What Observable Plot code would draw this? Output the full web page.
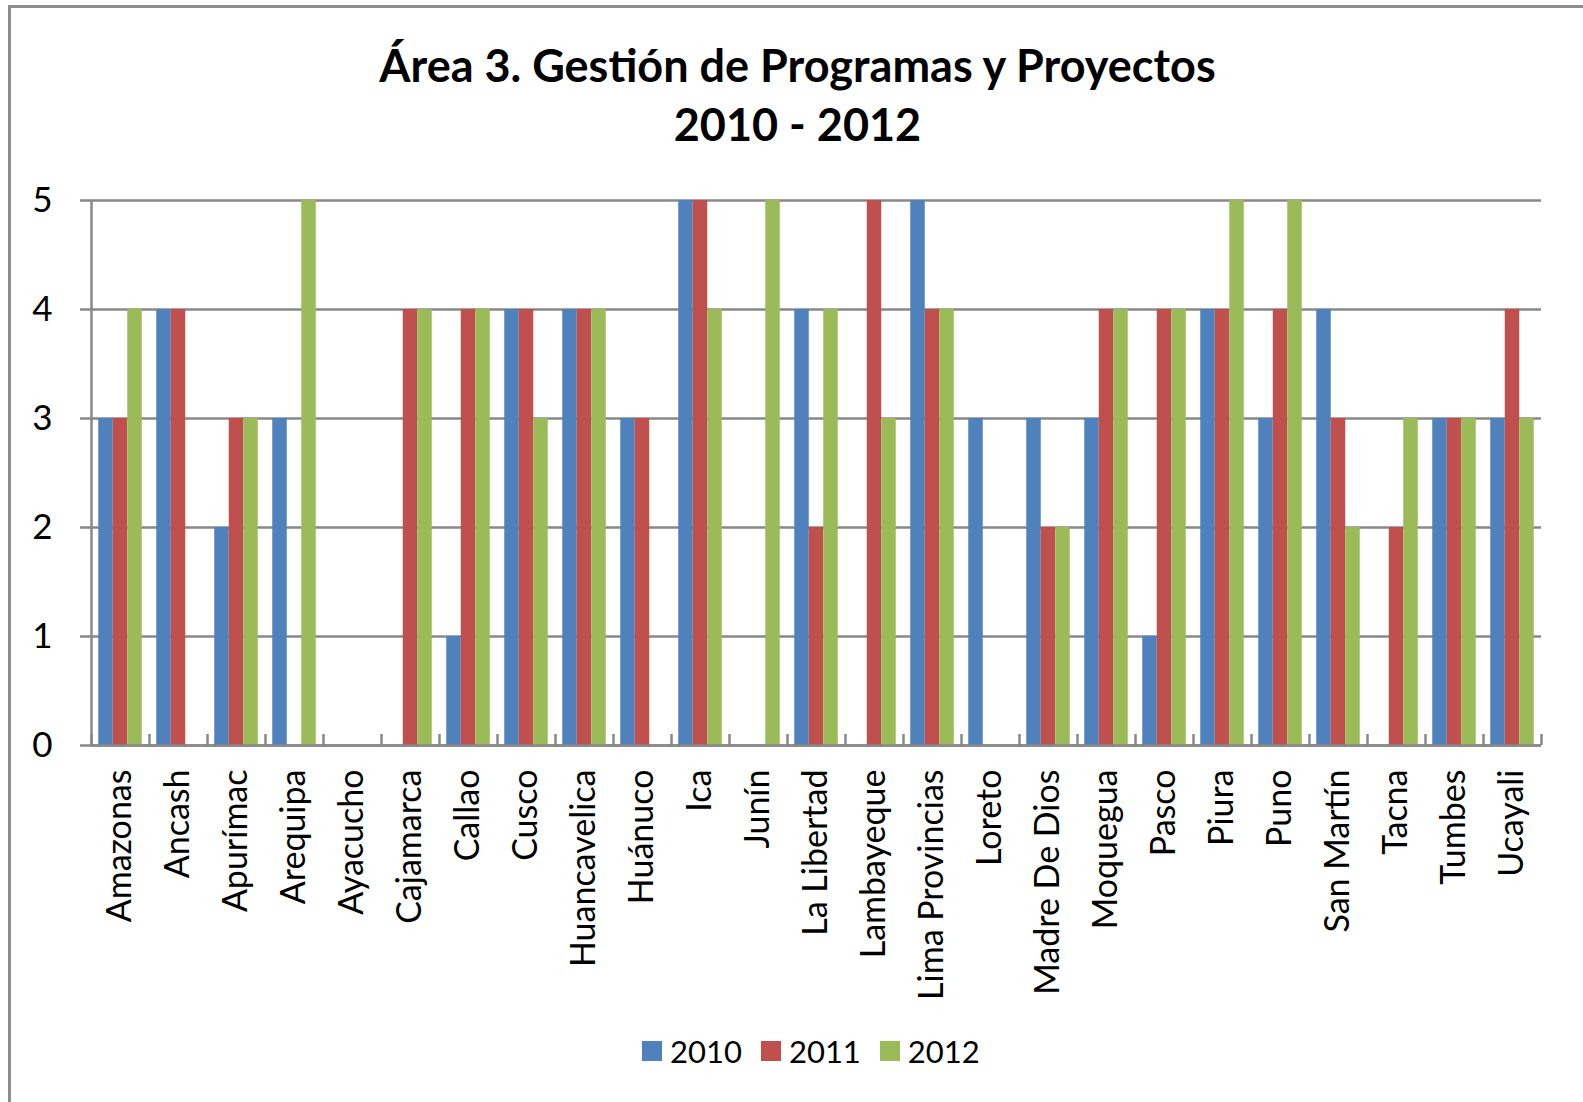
<!DOCTYPE html>
<html>
<head>
<meta charset="utf-8">
<script src="https://cdn.jsdelivr.net/npm/d3@7"></script>
<script src="https://cdn.jsdelivr.net/npm/@observablehq/plot@0.6"></script>
<style>
  html, body { margin: 0; padding: 0; background: #fff; }
  #wrap { position: relative; width: 1583px; height: 1102px; overflow: hidden; font-family: Lato, "Open Sans", sans-serif; color: #000; }
  #border { position: absolute; left: 8px; top: 5px; width: 2000px; height: 2000px; border: 3px solid #8c8c8c; box-sizing: border-box; }
  #title { position: absolute; left: 0; top: 36px; width: 1595px; text-align: center; font-weight: bold; font-size: 45px; line-height: 59px; }
  #chart { position: absolute; left: 0; top: 150px; }
  #legend { position: absolute; left: 642px; top: 1030px; display: flex; align-items: center; font-size: 31px; line-height: 42px; }
  #legend .item { display: flex; align-items: center; margin-right: 19px; }
  #legend .sw { width: 20px; height: 20px; margin-right: 8px; }
</style>
</head>
<body>
<div id="wrap">
  <div id="border"></div>
  <div id="title">Área 3. Gestión de Programas y Proyectos<br>2010 - 2012</div>
  <div id="chart"></div>
  <div id="legend"></div>
</div>
<script>
const categories = ["Amazonas","Ancash","Apurímac","Arequipa","Ayacucho","Cajamarca","Callao","Cusco","Huancavelica","Huánuco","Ica","Junín","La Libertad","Lambayeque","Lima Provincias","Loreto","Madre De Dios","Moquegua","Pasco","Piura","Puno","San Martín","Tacna","Tumbes","Ucayali"];
const v2010 = [3,4,2,3,0,0,1,4,4,3,5,0,4,0,5,3,3,3,1,4,3,4,0,3,3];
const v2011 = [3,4,3,0,0,4,4,4,4,3,5,0,2,5,4,0,2,4,4,4,4,3,2,3,4];
const v2012 = [4,0,3,5,0,4,4,3,4,0,4,5,4,3,4,0,2,4,4,5,5,2,3,3,3];
const years = ["2010","2011","2012"];
const colors = ["#4F81BD","#C0504D","#9BBB59"];
const yTicks = [0,1,2,3,4,5];

const series = [v2010, v2011, v2012];
const data = categories.flatMap((c, i) => series.map((s, j) => ({cat: c, year: years[j], idx: j, value: s[i]})));

const gridColor = "#888888";
const marginTop = 50, plotH = 545, marginBottom = 260;
const tickLen = 11;

const chart = Plot.plot({
  width: 1583,
  height: marginTop + plotH + marginBottom,
  marginLeft: 89,
  marginRight: 41,
  marginTop,
  marginBottom,
  style: {fontFamily: "Lato, 'Open Sans', sans-serif", fontSize: "34px", color: "#000", background: "transparent", overflow: "visible"},
  fx: {domain: categories, padding: 0},
  x: {domain: [0, 4], axis: null},
  y: {domain: [0, 5]},
  color: {domain: years, range: colors},
  marks: [
    Plot.ruleY(yTicks, {y: d => d, stroke: gridColor, strokeWidth: 2.5}),
    Plot.rect(data, {fx: "cat", x1: d => d.idx + 0.5, x2: d => d.idx + 1.5, y1: 0, y2: "value", fill: "year"}),
    Plot.ruleY([0], {y: d => d, stroke: gridColor, strokeWidth: 2.5}),
    Plot.ruleX([0], {x: d => d, stroke: gridColor, strokeWidth: 2.5, insetTop: plotH - tickLen}),
    Plot.ruleX([4], {x: d => d, fx: () => categories[categories.length - 1], stroke: gridColor, strokeWidth: 2.5, insetTop: plotH - tickLen}),
    Plot.ruleX([0], {x: d => d, fx: () => categories[0], stroke: gridColor, strokeWidth: 2.5}),
    Plot.axisY(yTicks, {anchor: "left", tickSize: tickLen, tickPadding: 28, tickFormat: d => String(d), stroke: gridColor, strokeWidth: 2.5, fill: "#000", label: null, fontSize: 35}),
    Plot.axisFx({anchor: "bottom", tickRotate: -90, tickSize: 0, tickPadding: 24, label: null, fontSize: 34, fill: "#000"})
  ]
});
document.getElementById("chart").appendChild(chart);

const legend = document.getElementById("legend");
years.forEach((y, i) => {
  const item = document.createElement("div");
  item.className = "item";
  const sw = document.createElement("div");
  sw.className = "sw";
  sw.style.background = colors[i];
  const t = document.createElement("span");
  t.textContent = y;
  item.appendChild(sw);
  item.appendChild(t);
  legend.appendChild(item);
});
</script>
</body>
</html>
